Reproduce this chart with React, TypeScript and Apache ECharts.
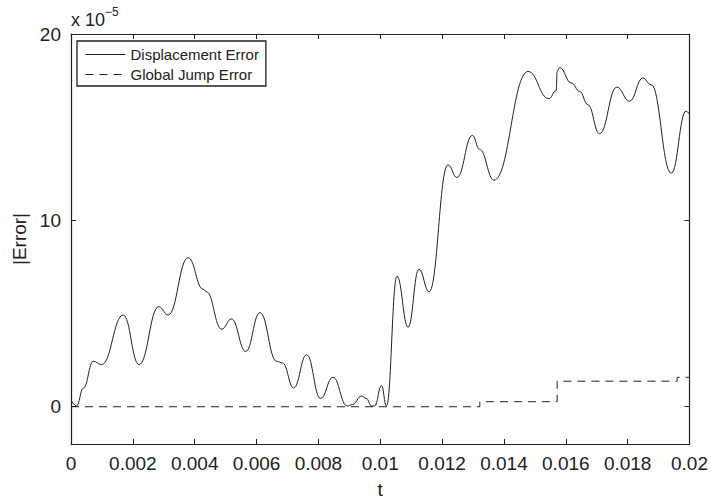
import React, { useEffect, useRef } from "react";
import * as echarts from "echarts";

const dispT = [0.00002, 0.00018, 0.0004, 0.00072, 0.00099, 0.00169, 0.0022, 0.00284, 0.00314, 0.00379, 0.00427, 0.00438, 0.00487, 0.00519, 0.00565, 0.00611, 0.00665, 0.00684, 0.0072, 0.00762, 0.00807, 0.00847, 0.00893, 0.00911, 0.00939, 0.00955, 0.00972, 0.00982, 0.01004, 0.0102, 0.01054, 0.0109, 0.01125, 0.01158, 0.01219, 0.01248, 0.01298, 0.01321, 0.01368, 0.01478, 0.01545, 0.01569, 0.01572, 0.0158, 0.01618, 0.01645, 0.01671, 0.01709, 0.01765, 0.01806, 0.01849, 0.01876, 0.01941, 0.01989, 0.02];
const dispErr = [0.3, 0.04, 1.0, 2.44, 2.26, 4.92, 2.26, 5.37, 4.92, 8.0, 6.31, 6.17, 4.16, 4.71, 2.97, 5.05, 2.44, 2.35, 1.01, 2.79, 0.44, 1.58, 0.04, 0.12, 0.57, 0.44, 0.04, 0.04, 1.14, 0.04, 7.0, 4.27, 7.38, 6.17, 12.98, 12.3, 14.56, 13.81, 12.16, 17.99, 16.53, 16.96, 18.0, 18.2, 17.37, 16.92, 16.21, 14.65, 17.15, 16.39, 17.64, 17.28, 12.53, 15.86, 15.68];

const jumpT = [0, 0.01322, 0.01322, 0.01572, 0.01572, 0.0196, 0.0196, 0.02];
const jumpErr = [0, 0, 0.27, 0.27, 1.37, 1.37, 1.58, 1.58];

const yTicks = [0, 10, 20];
const seriesNames = ["Displacement Error", "Global Jump Error"];
const xTitle = "t";
const yTitle = "|Error|";
const scaleBase = "x 10";
const scaleExp = "\u22125";

const FONT = "'Liberation Sans', Arial, Helvetica, sans-serif";
const INK = "#222";

export default function App() {
  const ref = useRef<HTMLDivElement>(null);
  useEffect(() => {
    if (!ref.current) return;
    const chart = echarts.init(ref.current, null, { renderer: "svg" });
    const grid = { left: 71, right: 21, top: 34, bottom: 57 };
    const axisLine = { show: true, onZero: false, lineStyle: { color: INK, width: 1.2 } };
    const tick = { show: true, inside: true, length: 5, lineStyle: { color: INK, width: 1 } };
    const option: any = {
      animation: false,
      backgroundColor: "#fff",
      textStyle: { fontFamily: FONT },
      grid,
      legend: {
        orient: "vertical",
        left: 77,
        top: 41,
        padding: [6, 7, 4, 8],
        itemGap: 5,
        itemWidth: 40,
        itemHeight: 15,
        borderColor: INK,
        borderWidth: 1.3,
        backgroundColor: "#fff",
        itemStyle: { opacity: 0 },
        lineStyle: { width: 1 },
        textStyle: { fontFamily: FONT, fontSize: 15, color: INK, lineHeight: 15 },
        data: seriesNames.map((n) => ({ name: n })),
      },
      xAxis: [
        {
          type: "value",
          min: 0,
          max: 0.02,
          interval: 0.002,
          position: "bottom",
          name: xTitle,
          nameLocation: "middle",
          nameGap: 36,
          nameTextStyle: { fontFamily: FONT, fontSize: 19, color: INK },
          axisLine,
          axisTick: tick,
          axisLabel: {
            fontFamily: FONT,
            fontSize: 19,
            color: INK,
            margin: 10,
            showMinLabel: true,
            showMaxLabel: true,
            formatter: (v: number) => String(parseFloat(v.toFixed(4))),
          },
          splitLine: { show: false },
        },
        {
          type: "value",
          min: 0,
          max: 0.02,
          interval: 0.002,
          position: "top",
          axisLine,
          axisTick: tick,
          axisLabel: { show: false },
          splitLine: { show: false },
        },
      ],
      yAxis: [
        {
          type: "value",
          min: -2,
          max: 20,
          position: "left",
          name: yTitle,
          nameLocation: "middle",
          nameGap: 42,
          nameTextStyle: { fontFamily: FONT, fontSize: 19, color: INK },
          axisLine,
          axisTick: { ...tick, customValues: yTicks },
          axisLabel: { fontFamily: FONT, fontSize: 19, color: INK, margin: 10, customValues: yTicks },
          splitLine: { show: false },
        },
        {
          type: "value",
          min: -2,
          max: 20,
          position: "right",
          axisLine,
          axisTick: { ...tick, customValues: yTicks },
          axisLabel: { show: false, customValues: yTicks },
          splitLine: { show: false },
        },
      ],
      graphic: [
        {
          type: "text",
          left: 71,
          top: 11,
          style: { text: scaleBase, fontFamily: FONT, fontSize: 18, fill: INK },
        },
        {
          type: "text",
          left: 105,
          top: 6,
          style: { text: scaleExp, fontFamily: FONT, fontSize: 12, fill: INK },
        },
      ],
      series: [
        {
          name: seriesNames[0],
          type: "line",
          xAxisIndex: 0,
          yAxisIndex: 0,
          data: dispT.map((t, i) => [t, dispErr[i]]),
          smooth: 0.45,
          smoothMonotone: "x",
          showSymbol: false,
          symbol: "none",
          lineStyle: { color: INK, width: 1, type: "solid" },
          itemStyle: { color: INK },
        },
        {
          name: seriesNames[1],
          type: "line",
          xAxisIndex: 0,
          yAxisIndex: 0,
          data: jumpT.map((t, i) => [t, jumpErr[i]]),
          showSymbol: false,
          symbol: "none",
          lineStyle: { color: INK, width: 1, type: [8, 6] },
          itemStyle: { color: INK },
        },
      ],
    };
    chart.setOption(option);
    return () => chart.dispose();
  }, []);
  return (
    <div
      ref={ref}
      style={{ position: "fixed", left: 0, top: 0, width: 711, height: 504, background: "#fff" }}
    />
  );
}
